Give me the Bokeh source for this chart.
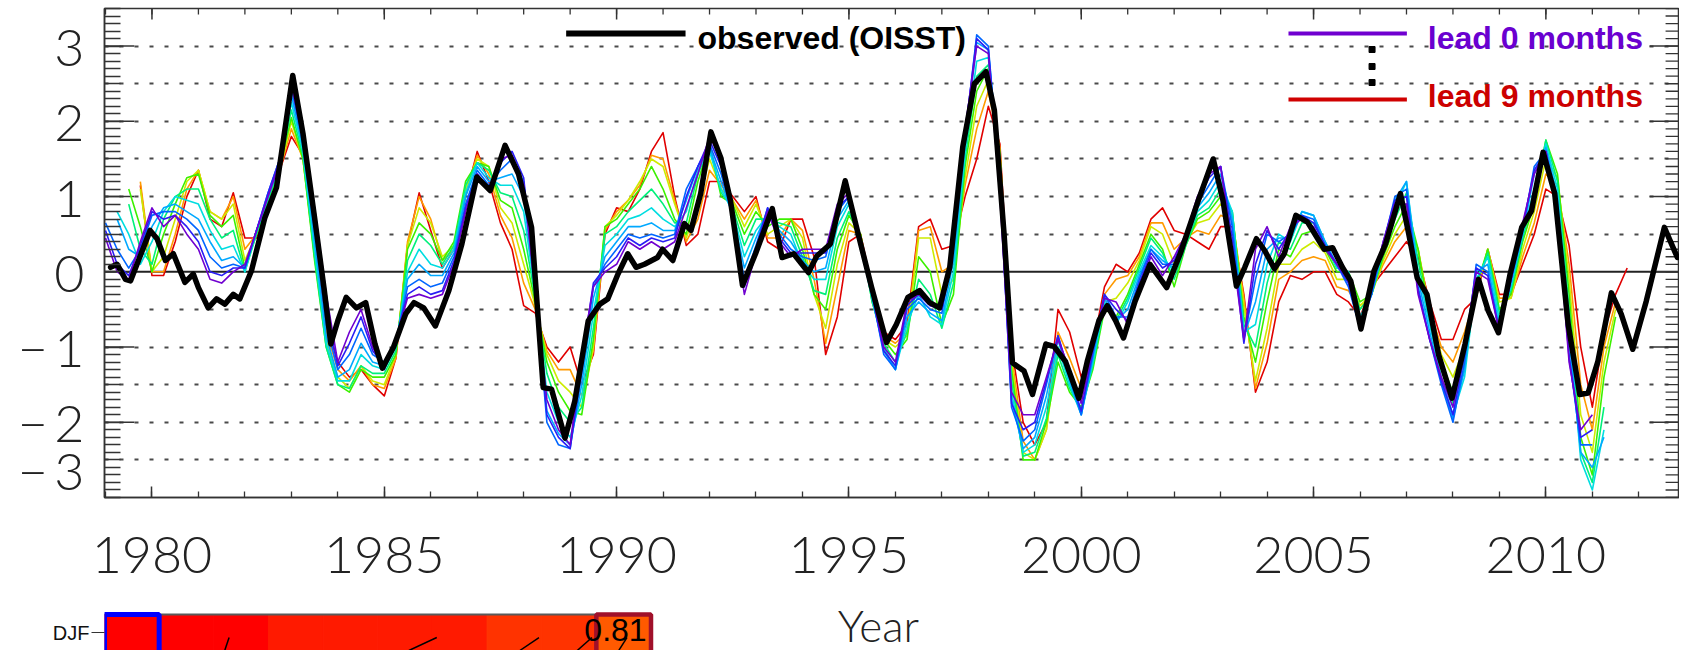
import math
from bokeh.plotting import figure
from bokeh.models import (Range1d, LinearAxis, SingleIntervalTicker, FixedTicker,
                          Span, Label, ColumnDataSource)
from bokeh.layouts import column
from bokeh.embed import file_html
from bokeh.resources import INLINE
from bokeh.core.properties import value

N = None

# ---------------- observed Nino index (OISST) ----------------
obs_year = [1979.11, 1979.25, 1979.43, 1979.54, 1979.96, 1980.11, 1980.29, 1980.46, 1980.71, 1980.89,
            1981.0, 1981.21, 1981.39, 1981.57, 1981.75, 1981.89, 1982.14, 1982.43, 1982.68, 1983.03,
            1983.25, 1983.50, 1983.71, 1983.85, 1984.0, 1984.18, 1984.4, 1984.6, 1984.8, 1984.96,
            1985.2, 1985.46, 1985.64, 1985.85, 1986.10, 1986.39, 1986.67, 1986.99, 1987.28, 1987.60,
            1987.89, 1988.17, 1988.42, 1988.6, 1988.89, 1989.10, 1989.39, 1989.64, 1989.81, 1990.03,
            1990.24, 1990.42, 1990.6, 1990.88, 1990.99, 1991.21, 1991.46, 1991.6, 1991.81, 1992.03,
            1992.24, 1992.45, 1992.71, 1992.99, 1993.35, 1993.56, 1993.81, 1994.13, 1994.31, 1994.60,
            1994.92, 1995.20, 1995.49, 1995.81, 1996.02, 1996.27, 1996.52, 1996.74, 1996.95, 1997.17,
            1997.45, 1997.70, 1997.95, 1998.13, 1998.34, 1998.52, 1998.77, 1998.95, 1999.24, 1999.41,
            1999.66, 1999.95, 2000.13, 2000.38, 2000.56, 2000.74, 2000.91, 2001.16, 2001.48, 2001.84,
            2002.13, 2002.52, 2002.84, 2003.05, 2003.34, 2003.52, 2003.77, 2003.95, 2004.16, 2004.37,
            2004.62, 2004.87, 2005.23, 2005.41, 2005.62, 2005.80, 2006.02, 2006.30, 2006.55, 2006.87,
            2007.05, 2007.23, 2007.44, 2007.69, 2007.98, 2008.26, 2008.55, 2008.76, 2008.98, 2009.23,
            2009.48, 2009.69, 2009.94, 2010.19, 2010.48, 2010.73, 2010.91, 2011.12, 2011.41, 2011.62,
            2011.87, 2012.16, 2012.55, 2012.83]
obs_anom = [0.06, 0.10, -0.10, -0.12, 0.55, 0.44, 0.15, 0.24, -0.14, -0.03,
            -0.21, -0.48, -0.36, -0.43, -0.30, -0.36, 0.01, 0.72, 1.12, 2.61,
            1.84, 0.72, -0.25, -0.96, -0.65, -0.34, -0.48, -0.41, -0.96, -1.28,
            -1.00, -0.56, -0.41, -0.48, -0.72, -0.25, 0.37, 1.26, 1.08, 1.68,
            1.30, 0.59, -1.54, -1.56, -2.21, -1.72, -0.65, -0.43, -0.36, -0.03,
            0.24, 0.06, 0.10, 0.19, 0.30, 0.15, 0.64, 0.55, 1.04, 1.86,
            1.52, 0.95, -0.18, 0.24, 0.84, 0.19, 0.24, -0.01, 0.21, 0.37,
            1.21, 0.50, -0.21, -0.94, -0.70, -0.34, -0.25, -0.41, -0.48, 0.06,
            1.66, 2.50, 2.66, 2.15, 0.50, -1.21, -1.32, -1.63, -0.96, -0.99,
            -1.19, -1.68, -1.19, -0.65, -0.45, -0.65, -0.88, -0.39, 0.10, -0.21,
            0.24, 0.95, 1.50, 0.95, -0.19, 0.06, 0.44, 0.28, 0.04, 0.24,
            0.75, 0.66, 0.30, 0.32, 0.06, -0.12, -0.76, 0.01, 0.37, 1.04,
            0.50, -0.08, -0.30, -1.10, -1.68, -0.96, -0.10, -0.52, -0.81, -0.03,
            0.59, 0.81, 1.59, 1.04, -0.70, -1.63, -1.61, -1.19, -0.28, -0.56,
            -1.03, -0.39, 0.59, 0.19]

# ---------------- hindcasts, quarterly from 1979.0, lead 0 ... lead 9 months ----------------
lead_start_year = 1979.0
lead_step_year = 0.25

lead0 = [0.45, 0.00, -0.10, 0.40, 0.85, 0.60, 0.75, 0.50, 0.30, -0.10, -0.15, 0.00,
         0.10, 0.55, 1.00, 1.45, 2.50, 1.80, 0.85, -0.30, -1.20, -0.80, -0.50, -1.00,
         -1.30, -0.90, -0.35, -0.30, -0.35, -0.30, 0.10, 0.80, 1.30, 1.10, 1.50, 1.55,
         1.15, -0.30, -1.70, -2.10, -2.30, -1.10, -0.20, 0.00, 0.10, 0.40, 0.30, 0.40,
         0.30, 0.40, 0.85, 1.30, 1.80, 1.50, 0.70, -0.30, 0.25, 0.80, 0.40, 0.20,
         0.30, 0.30, 0.30, 0.90, 1.05, 0.40, -0.30, -1.00, -1.20, -0.40, -0.30, -0.45,
         -0.45, 0.40, 1.90, 3.00, 2.90, 1.00, -1.60, -1.90, -1.90, -1.40, -0.90, -1.30,
         -1.75, -1.00, -0.35, -0.40, -0.70, -0.20, 0.20, -0.05, 0.20, 0.50, 1.00, 1.30,
         1.40, 0.30, -0.90, 0.30, 0.60, 0.20, 0.60, 0.70, 0.60, 0.30, 0.10, -0.10,
         -0.70, -0.20, 0.40, 0.90, 0.90, -0.30, -0.90, -1.40, -1.80, -1.00, 0.00, -0.10,
         -0.80, -0.10, 0.65, 1.30, 1.60, 0.70, -1.20, -2.10, -1.90, N, N, N]
lead1 = [0.55, 0.10, -0.05, 0.35, 0.80, 0.70, 0.75, 0.60, 0.40, 0.00, -0.05, 0.05,
         0.05, 0.55, 1.05, 1.50, 2.50, 1.75, 0.70, -0.50, -1.25, -0.95, -0.60, -1.05,
         -1.25, -0.90, -0.30, -0.20, -0.30, -0.25, 0.15, 0.85, 1.30, 1.10, 1.45, 1.60,
         1.25, -0.25, -1.90, -2.20, -2.35, -1.20, -0.15, 0.05, 0.20, 0.45, 0.35, 0.45,
         0.40, 0.45, 1.00, 1.40, 1.75, 1.40, 0.70, -0.20, 0.30, 0.85, 0.45, 0.25,
         0.25, 0.25, 0.25, 0.85, 1.00, 0.35, -0.30, -1.05, -1.25, -0.45, -0.30, -0.45,
         -0.50, 0.35, 1.85, 3.10, 2.95, 1.10, -1.75, -2.10, -2.00, -1.45, -0.85, -1.35,
         -1.85, -1.05, -0.30, -0.50, -0.65, -0.15, 0.25, 0.05, 0.15, 0.50, 0.95, 1.25,
         1.40, 0.45, -0.95, 0.10, 0.55, 0.30, 0.55, 0.75, 0.65, 0.35, 0.10, -0.15,
         -0.75, -0.25, 0.40, 0.95, 1.00, -0.25, -0.90, -1.45, -1.90, -1.10, 0.05, -0.05,
         -0.80, -0.10, 0.60, 1.35, 1.60, 0.80, -1.15, -2.20, -2.10, N, N, N]
lead2 = [0.65, 0.30, 0.05, 0.30, 0.75, 0.80, 0.80, 0.70, 0.55, 0.20, 0.05, 0.10,
         0.05, 0.55, 1.05, 1.50, 2.45, 1.70, 0.55, -0.70, -1.30, -1.10, -0.75, -1.10,
         -1.20, -0.95, -0.20, -0.10, -0.20, -0.15, 0.20, 0.90, 1.35, 1.15, 1.35, 1.50,
         1.20, -0.20, -2.00, -2.30, -2.35, -1.35, -0.20, 0.10, 0.30, 0.50, 0.45, 0.50,
         0.45, 0.50, 1.10, 1.40, 1.70, 1.30, 0.75, -0.10, 0.35, 0.85, 0.50, 0.30,
         0.20, 0.15, 0.20, 0.80, 1.00, 0.30, -0.30, -1.10, -1.30, -0.50, -0.35, -0.50,
         -0.55, 0.30, 1.80, 3.15, 3.00, 1.20, -1.80, -2.25, -2.10, -1.50, -0.85, -1.40,
         -1.90, -1.10, -0.30, -0.60, -0.60, -0.10, 0.30, 0.10, 0.10, 0.50, 0.90, 1.15,
         1.40, 0.60, -0.90, -0.10, 0.50, 0.40, 0.50, 0.75, 0.70, 0.35, 0.10, -0.20,
         -0.75, -0.30, 0.35, 1.00, 1.10, -0.20, -0.90, -1.50, -2.00, -1.20, 0.10, 0.00,
         -0.80, -0.10, 0.55, 1.40, 1.60, 0.90, -1.10, -2.30, -2.30, N, N, N]
lead3 = [N, 0.70, 0.30, 0.20, 0.60, 0.85, 0.90, 0.80, 0.70, 0.40, 0.15, 0.20,
         0.05, 0.55, 1.00, 1.45, 2.35, 1.65, 0.40, -0.85, -1.40, -1.30, -0.95, -1.20,
         -1.25, -0.95, -0.10, 0.10, -0.05, -0.05, 0.25, 1.00, 1.40, 1.20, 1.25, 1.30,
         1.00, -0.25, -1.85, -2.15, -2.30, -1.50, -0.35, 0.20, 0.40, 0.60, 0.60, 0.65,
         0.55, 0.55, 0.95, 1.40, 1.65, 1.20, 0.75, 0.05, 0.45, 0.80, 0.55, 0.40,
         0.15, 0.00, 0.05, 0.70, 0.95, 0.35, -0.35, -1.05, -1.30, -0.60, -0.40, -0.55,
         -0.65, 0.15, 1.70, 3.05, 2.95, 1.30, -1.70, -2.35, -2.20, -1.65, -0.90, -1.45,
         -1.90, -1.15, -0.35, -0.65, -0.50, -0.05, 0.30, 0.15, 0.05, 0.45, 0.85, 1.05,
         1.30, 0.70, -0.85, -0.40, 0.30, 0.45, 0.45, 0.80, 0.75, 0.40, 0.10, -0.10,
         -0.70, -0.30, 0.35, 0.95, 1.20, -0.10, -0.80, -1.45, -1.95, -1.30, 0.00, 0.10,
         -0.75, -0.15, 0.50, 1.30, 1.65, 1.00, -0.90, -2.40, -2.60, -2.20, N, N]
lead4 = [N, 0.80, 0.50, 0.10, 0.40, 0.80, 1.00, 0.95, 0.90, 0.55, 0.30, 0.35,
         0.00, 0.55, 1.00, 1.45, 2.25, 1.60, 0.30, -0.95, -1.45, -1.45, -1.10, -1.25,
         -1.30, -1.00, 0.00, 0.30, 0.10, 0.05, 0.30, 1.05, 1.45, 1.25, 1.15, 1.15,
         0.80, -0.30, -1.60, -2.00, -2.20, -1.65, -0.55, 0.35, 0.50, 0.70, 0.75, 0.85,
         0.70, 0.60, 0.80, 1.35, 1.60, 1.10, 0.80, 0.20, 0.55, 0.75, 0.60, 0.50,
         0.10, -0.10, -0.10, 0.60, 0.90, 0.40, -0.35, -1.00, -1.30, -0.70, -0.30, -0.60,
         -0.70, 0.00, 1.60, 2.80, 2.85, 1.40, -1.60, -2.40, -2.30, -1.80, -1.00, -1.50,
         -1.90, -1.20, -0.40, -0.70, -0.40, 0.00, 0.35, 0.20, 0.00, 0.40, 0.80, 0.95,
         1.20, 0.80, -0.80, -0.70, 0.10, 0.50, 0.40, 0.80, 0.75, 0.40, 0.05, 0.00,
         -0.60, -0.30, 0.30, 0.85, 1.20, 0.00, -0.70, -1.40, -1.90, -1.40, -0.10, 0.20,
         -0.65, -0.20, 0.50, 1.10, 1.70, 1.10, -0.70, -2.50, -2.90, -2.10, N, N]
lead5 = [N, N, 0.90, 0.30, 0.10, 0.70, 1.00, 1.10, 1.10, 0.70, 0.45, 0.55,
         0.00, 0.50, 0.95, 1.40, 2.15, 1.55, 0.20, -1.00, -1.50, -1.55, -1.25, -1.35,
         -1.35, -1.05, 0.15, 0.50, 0.35, 0.10, 0.35, 1.15, 1.45, 1.35, 1.05, 1.00,
         0.55, -0.35, -1.35, -1.80, -2.00, -1.80, -0.75, 0.50, 0.60, 0.80, 0.95, 1.10,
         0.90, 0.65, 0.65, 1.30, 1.65, 1.05, 0.85, 0.35, 0.70, 0.70, 0.65, 0.60,
         0.20, -0.25, -0.30, 0.45, 0.80, 0.45, -0.40, -0.95, -1.20, -0.80, -0.10, -0.30,
         -0.75, -0.15, 1.50, 2.60, 2.75, 1.50, -1.45, -2.45, -2.40, -1.95, -1.10, -1.55,
         -1.85, -1.25, -0.45, -0.65, -0.35, 0.05, 0.45, 0.25, -0.10, 0.35, 0.75, 0.85,
         1.10, 0.80, -0.70, -1.00, -0.15, 0.40, 0.30, 0.65, 0.65, 0.35, 0.05, 0.00,
         -0.50, -0.30, 0.25, 0.70, 1.05, 0.15, -0.65, -1.30, -1.75, -1.30, -0.15, 0.25,
         -0.55, -0.25, 0.45, 1.00, 1.75, 1.20, -0.50, -2.40, -2.80, -1.80, N, N]
lead6 = [N, N, 1.10, 0.60, 0.00, 0.50, 0.90, 1.25, 1.30, 0.75, 0.60, 0.75,
         0.05, 0.50, 0.95, 1.40, 2.05, 1.50, 0.15, -1.00, -1.50, -1.60, -1.30, -1.40,
         -1.40, -1.10, 0.30, 0.65, 0.50, 0.15, 0.40, 1.20, 1.45, 1.40, 0.95, 0.85,
         0.30, -0.40, -1.20, -1.60, -1.85, -1.90, -0.90, 0.60, 0.70, 0.90, 1.10, 1.40,
         1.10, 0.70, 0.50, 1.20, 1.70, 1.00, 0.90, 0.50, 0.80, 0.60, 0.70, 0.70,
         0.30, -0.30, -0.50, 0.30, 0.75, 0.50, -0.40, -0.90, -1.10, -0.90, 0.20, 0.00,
         -0.70, -0.30, 1.40, 2.40, 2.70, 1.55, -1.30, -2.50, -2.50, -2.00, -1.20, -1.60,
         -1.80, -1.30, -0.50, -0.60, -0.30, 0.10, 0.50, 0.30, -0.20, 0.35, 0.70, 0.80,
         1.00, 0.80, -0.60, -1.20, -0.40, 0.30, 0.20, 0.50, 0.55, 0.30, 0.00, 0.00,
         -0.40, -0.30, 0.20, 0.60, 0.90, 0.30, -0.60, -1.20, -1.60, -1.20, -0.20, 0.30,
         -0.50, -0.30, 0.40, 0.90, 1.75, 1.30, -0.30, -2.20, -2.70, -1.40, -0.60, N]
lead7 = [N, N, N, 1.10, 0.00, 0.20, 0.70, 1.20, 1.35, 0.80, 0.70, 0.90,
         0.15, 0.50, 0.90, 1.35, 2.00, 1.50, 0.20, -0.90, -1.40, -1.55, -1.25, -1.45,
         -1.50, -1.10, 0.35, 0.85, 0.65, 0.20, 0.35, 1.10, 1.50, 1.40, 0.85, 0.65,
         0.10, -0.45, -1.10, -1.45, -1.60, -1.80, -1.00, 0.60, 0.75, 0.95, 1.20, 1.50,
         1.40, 0.90, 0.45, 0.90, 1.50, 1.10, 0.95, 0.60, 0.90, 0.50, 0.60, 0.70,
         0.45, -0.30, -0.75, 0.10, 0.65, 0.50, -0.35, -0.90, -1.00, -0.85, 0.45, 0.45,
         -0.30, -0.10, 1.25, 2.20, 2.55, 1.60, -1.20, -2.40, -2.50, -2.10, -1.00, -1.40,
         -1.65, -1.25, -0.40, -0.35, -0.15, 0.15, 0.60, 0.50, 0.10, 0.40, 0.65, 0.70,
         0.90, 0.75, -0.45, -1.45, -0.75, 0.10, 0.10, 0.30, 0.40, 0.25, -0.10, -0.10,
         -0.45, -0.30, 0.15, 0.50, 0.75, 0.30, -0.55, -1.10, -1.40, -1.00, -0.25, 0.30,
         -0.40, -0.35, 0.30, 0.80, 1.50, 1.25, -0.10, -1.90, -2.40, -1.20, -0.50, N]
lead8 = [N, N, N, 1.20, 0.00, 0.00, 0.50, 1.10, 1.35, 0.80, 0.70, 1.00,
         0.30, 0.50, 0.90, 1.35, 1.90, 1.50, 0.25, -0.80, -1.30, -1.45, -1.25, -1.50,
         -1.55, -1.15, 0.40, 1.00, 0.70, 0.15, 0.30, 1.05, 1.55, 1.30, 0.75, 0.45,
         -0.15, -0.50, -1.05, -1.30, -1.30, -1.65, -1.05, 0.55, 0.80, 0.95, 1.15, 1.55,
         1.50, 0.95, 0.40, 0.70, 1.35, 1.15, 0.95, 0.70, 0.95, 0.45, 0.45, 0.70,
         0.55, -0.10, -0.95, -0.20, 0.55, 0.50, -0.30, -0.85, -0.95, -0.80, 0.55, 0.60,
         0.00, 0.10, 1.15, 1.90, 2.40, 1.65, -1.10, -2.25, -2.50, -2.10, -0.80, -1.15,
         -1.55, -1.15, -0.30, -0.10, -0.05, 0.20, 0.65, 0.65, 0.30, 0.45, 0.55, 0.50,
         0.75, 0.70, -0.35, -1.55, -0.95, -0.10, 0.00, 0.15, 0.20, 0.15, -0.20, -0.25,
         -0.50, -0.25, 0.10, 0.40, 0.60, 0.30, -0.50, -1.00, -1.20, -0.80, -0.30, 0.30,
         -0.35, -0.35, 0.20, 0.65, 1.30, 1.15, 0.10, -1.50, -2.10, -1.00, -0.40, N]
lead9 = [N, N, N, 1.15, -0.05, -0.05, 0.40, 1.00, 1.35, 0.70, 0.60, 1.05,
         0.45, 0.45, 0.90, 1.35, 1.80, 1.55, 0.30, -0.70, -1.20, -1.40, -1.30, -1.50,
         -1.65, -1.15, 0.35, 1.05, 0.55, 0.05, 0.30, 1.00, 1.60, 1.20, 0.65, 0.30,
         -0.45, -0.55, -1.00, -1.20, -1.00, -1.50, -1.10, 0.50, 0.85, 0.80, 1.10, 1.60,
         1.85, 1.00, 0.35, 0.50, 1.20, 1.20, 1.00, 0.80, 1.00, 0.40, 0.30, 0.70,
         0.70, 0.20, -1.10, -0.60, 0.40, 0.50, -0.20, -0.80, -0.90, -0.70, 0.60, 0.70,
         0.30, 0.35, 1.00, 1.50, 2.20, 1.70, -1.00, -2.00, -2.30, -2.00, -0.50, -0.80,
         -1.40, -1.00, -0.20, 0.10, 0.00, 0.25, 0.70, 0.85, 0.55, 0.50, 0.40, 0.30,
         0.60, 0.60, -0.30, -1.60, -1.20, -0.40, -0.05, -0.10, 0.00, 0.00, -0.30, -0.40,
         -0.60, -0.20, 0.00, 0.20, 0.40, 0.20, -0.40, -0.90, -0.90, -0.50, -0.35, 0.30,
         -0.30, -0.30, 0.10, 0.50, 1.10, 1.00, 0.35, -1.00, -1.80, -0.80, -0.30, 0.05]

leads = [lead0, lead1, lead2, lead3, lead4, lead5, lead6, lead7, lead8, lead9]
lead_colors = ["#7000D0", "#2A1EF5", "#0066FF", "#00A8FF", "#00DDE0",
               "#00F07A", "#3CF000", "#CDEB00", "#FF9A00", "#E00000"]

# lower panel fragment: DJF skill by lead month
djf_skill = [0.97, 0.96, 0.95, 0.93, 0.92, 0.91, 0.90, 0.87, 0.85, 0.81]
djf_contour_x0 = [1.70, 5.07, 7.10, 8.15, 8.91]
djf_contour_x1 = [1.78, 5.58, 7.45, 8.42, 9.06]

# axis ticks / labels
y_major = [-3, -2, -1, 0, 1, 2, 3]
y_label_text = {-3: "\u2212\u20093", -2: "\u2212\u20092", -1: "\u2212\u20091",
                0: "0", 1: "1", 2: "2", 3: "3"}
y_minor = [round(-3.0 + 0.1 * i, 1) for i in range(66)]
year_minor = list(range(1979, 2013))
year_major = [1980, 1985, 1990, 1995, 2000, 2005, 2010]

# ---------------- geometry (page pixels; page top has no margin) ----------------
PAGE_L = 8
FRAME_L, FRAME_R = 104, 1687
FRAME_T, FRAME_B = 8, 497
PX_YR = 46.7
X0 = 1980 - (151.7 - FRAME_L) / PX_YR
X1 = X0 + (FRAME_R - FRAME_L) / PX_YR
Y0, Y1 = -3.0, 3.5
PX_U = (FRAME_B - FRAME_T) / (Y1 - Y0)


def dx(px):
    return X0 + (px - FRAME_L) / PX_YR


def dy(py):
    return Y1 - (py - FRAME_T) / PX_U


NUMFONT = "Lato Light, DejaVu Sans"
W = 1679
H_MAIN = 598
H_LOW = 650 - H_MAIN

p = figure(width=W, height=H_MAIN, x_range=Range1d(X0, X1), y_range=Range1d(Y0, Y1),
           toolbar_location=None, output_backend="svg",
           x_axis_location=None, y_axis_location=None,
           min_border_left=FRAME_L - PAGE_L, min_border_right=0, min_border_top=FRAME_T,
           min_border_bottom=H_MAIN - FRAME_B)
p.outline_line_color = "#333333"
p.outline_line_width = 1.5
p.background_fill_color = "white"
p.border_fill_color = "white"

TICK = "#333333"
xb = LinearAxis(ticker=SingleIntervalTicker(interval=5, num_minor_ticks=5),
                major_tick_in=11, major_tick_out=0, minor_tick_in=6, minor_tick_out=0,
                major_label_standoff=39, major_label_text_font=NUMFONT,
                major_label_text_font_size="52px", major_label_text_color="#222222",
                axis_line_color=TICK, axis_line_width=1.5, major_tick_line_color=TICK,
                minor_tick_line_color=TICK, major_tick_line_width=1.5, minor_tick_line_width=1.3)
p.add_layout(xb, "below")

# the lowest label sits lifted above the bottom corner, as in the original
y_label_pos = [-2.63 if v == -3 else v for v in y_major]
yl = LinearAxis(ticker=FixedTicker(ticks=y_label_pos, minor_ticks=y_minor),
                major_tick_in=0, major_tick_out=0, minor_tick_in=16, minor_tick_out=0,
                major_label_standoff=20, major_label_text_font=NUMFONT,
                major_label_text_font_size="52px", major_label_text_color="#222222",
                major_label_overrides={pos: y_label_text[v] for pos, v in zip(y_label_pos, y_major)},
                axis_line_color=TICK, axis_line_width=1.5, minor_tick_line_color=TICK,
                minor_tick_line_width=1.3)
p.add_layout(yl, "left")

# inward ticks of the box: long ticks on integers (left and right), right minor ticks,
# and the year ticks along the top edge
yi = [v for v in y_major if Y0 < v < Y1]
p.segment(x0=[X0] * len(yi), y0=yi, x1=[X0 + 30 / PX_YR] * len(yi), y1=yi,
          line_color=TICK, line_width=1.5)
p.segment(x0=[X1] * len(yi), y0=yi, x1=[X1 - 30 / PX_YR] * len(yi), y1=yi,
          line_color=TICK, line_width=1.5)
p.segment(x0=[X1] * len(y_minor), y0=y_minor, x1=[X1 - 14 / PX_YR] * len(y_minor), y1=y_minor,
          line_color=TICK, line_width=1.3)
p.segment(x0=year_minor, y0=[Y1] * len(year_minor), x1=year_minor,
          y1=[Y1 - 6 / PX_U] * len(year_minor), line_color=TICK, line_width=1.3)
p.segment(x0=year_major, y0=[Y1] * len(year_major), x1=year_major,
          y1=[Y1 - 11 / PX_U] * len(year_major), line_color=TICK, line_width=1.5)

p.xgrid.visible = False
p.ygrid.ticker = FixedTicker(ticks=[-2.5, -2, -1.5, -1, -0.5, 0.5, 1, 1.5, 2, 2.5, 3])
p.ygrid.grid_line_color = "#4a4a4a"
p.ygrid.grid_line_dash = "4 11"
p.ygrid.grid_line_width = 1.8
p.add_layout(Span(location=0, dimension="width", line_color="#222222", line_width=2,
                  level="underlay"))

# hindcast lines: lead 9 drawn first, lead 0 on top
for k in range(9, -1, -1):
    vals = leads[k]
    ts = [lead_start_year + lead_step_year * i for i in range(len(vals))]
    ys = [float("nan") if v is None else v for v in vals]
    p.line(ts, ys, line_color=lead_colors[k], line_width=1.6, line_join="round")

p.line(obs_year, obs_anom, line_color="black", line_width=5.5, line_join="round", line_cap="round")

# legend (drawn as in the original figure)
LEGFONT = value("Liberation Sans")
p.line([dx(568), dx(688)], [dy(33), dy(33)], line_color="black", line_width=6)
p.text([dx(700)], [dy(37)], text=["observed (OISST)"], text_font=LEGFONT,
       text_font_style="bold", text_font_size="32px", text_baseline="middle", text_color="black")
p.line([dx(1294), dx(1413)], [dy(33), dy(33)], line_color=lead_colors[0], line_width=4)
p.line([dx(1294), dx(1413)], [dy(99), dy(99)], line_color="#D00000", line_width=4)
p.scatter([dx(1378)] * 3, [dy(49), dy(66), dy(82)], marker="square", size=6,
          fill_color="black", line_color="black")
p.text([dx(1434)], [dy(37)], text=["lead 0 months"], text_font=LEGFONT,
       text_font_style="bold", text_font_size="32px", text_baseline="middle",
       text_color="#6A00D0")
p.text([dx(1434)], [dy(95)], text=["lead 9 months"], text_font=LEGFONT,
       text_font_style="bold", text_font_size="32px", text_baseline="middle",
       text_color="#CC0000")

# ---------------- lower fragment ----------------
CELL_L = 112
CELL_W = 54.65
CELL_TOP = 614
PX_ROW = 36.0
p2 = figure(width=W, height=H_LOW,
            x_range=Range1d(-0.5, -0.5 + (W - (CELL_L - PAGE_L)) / CELL_W),
            y_range=Range1d(-0.5, 0.5 + (CELL_TOP - H_MAIN) / PX_ROW),
            toolbar_location=None, output_backend="svg",
            x_axis_location=None, y_axis_location=None,
            min_border_left=CELL_L - PAGE_L, min_border_right=0, min_border_top=0, min_border_bottom=0)
p2.outline_line_color = None
p2.xgrid.visible = False
p2.ygrid.visible = False
p2.background_fill_color = "white"
p2.border_fill_color = "white"

ya = LinearAxis(ticker=FixedTicker(ticks=[0], minor_ticks=[]), major_label_overrides={0: "DJF"},
                major_tick_in=0, major_tick_out=13, minor_tick_out=0, minor_tick_in=0,
                major_label_standoff=2, major_label_text_font="Liberation Sans",
                major_label_text_font_size="20px", major_label_text_color="#111111",
                axis_line_color=None, major_tick_line_color="#333333")
p2.add_layout(ya, "left")


def skill_color(s):
    if s >= 0.95:
        return "#FF0000"
    if s >= 0.89:
        return "#FF1A00"
    if s >= 0.84:
        return "#FF3300"
    return "#FF5A00"


lead_idx = list(range(len(djf_skill)))
cell_colors = [skill_color(s) for s in djf_skill]
cells = ColumnDataSource(dict(
    left=[i - 0.5 for i in lead_idx], right=[i + 0.5 for i in lead_idx], color=cell_colors))
p2.quad(left="left", right="right", top=0.5, bottom=-0.7, fill_color="color",
        line_color="color", line_width=1, source=cells)
p2.segment(x0=[-0.5], y0=[0.5], x1=[len(djf_skill) - 0.5], y1=[0.5], line_color="#5a5a5a",
           line_width=2)
p2.segment(x0=djf_contour_x0, y0=[-0.5] * len(djf_contour_x0), x1=djf_contour_x1,
           y1=[-0.14] * len(djf_contour_x1), line_color="black", line_width=1.5)
p2.quad(left=[-0.5], right=[0.5], top=[0.5], bottom=[-0.7], fill_color=None,
        line_color="#0000FF", line_width=5)
last = len(djf_skill) - 1
p2.quad(left=[last - 0.5], right=[last + 0.5], top=[0.5], bottom=[-0.7], fill_color=None,
        line_color="#A0102A", line_width=4.5)
p2.text([last + 0.42], [0.06], text=["%.2f" % djf_skill[last]], text_align="right",
        text_baseline="middle", text_font=LEGFONT, text_font_size="32px",
        text_color="black")

# x-axis title of the upper panel
p2.add_layout(Label(x=(886 - CELL_L) / CELL_W - 0.5, y=0.5 - (624 - CELL_TOP) / PX_ROW,
                    text="Year", text_align="center", text_baseline="middle",
                    text_font=NUMFONT, text_font_size="44px", text_color="#222222"))

layout = column(p, p2, spacing=0)
open("out.html", "w").write(file_html(layout, INLINE))
